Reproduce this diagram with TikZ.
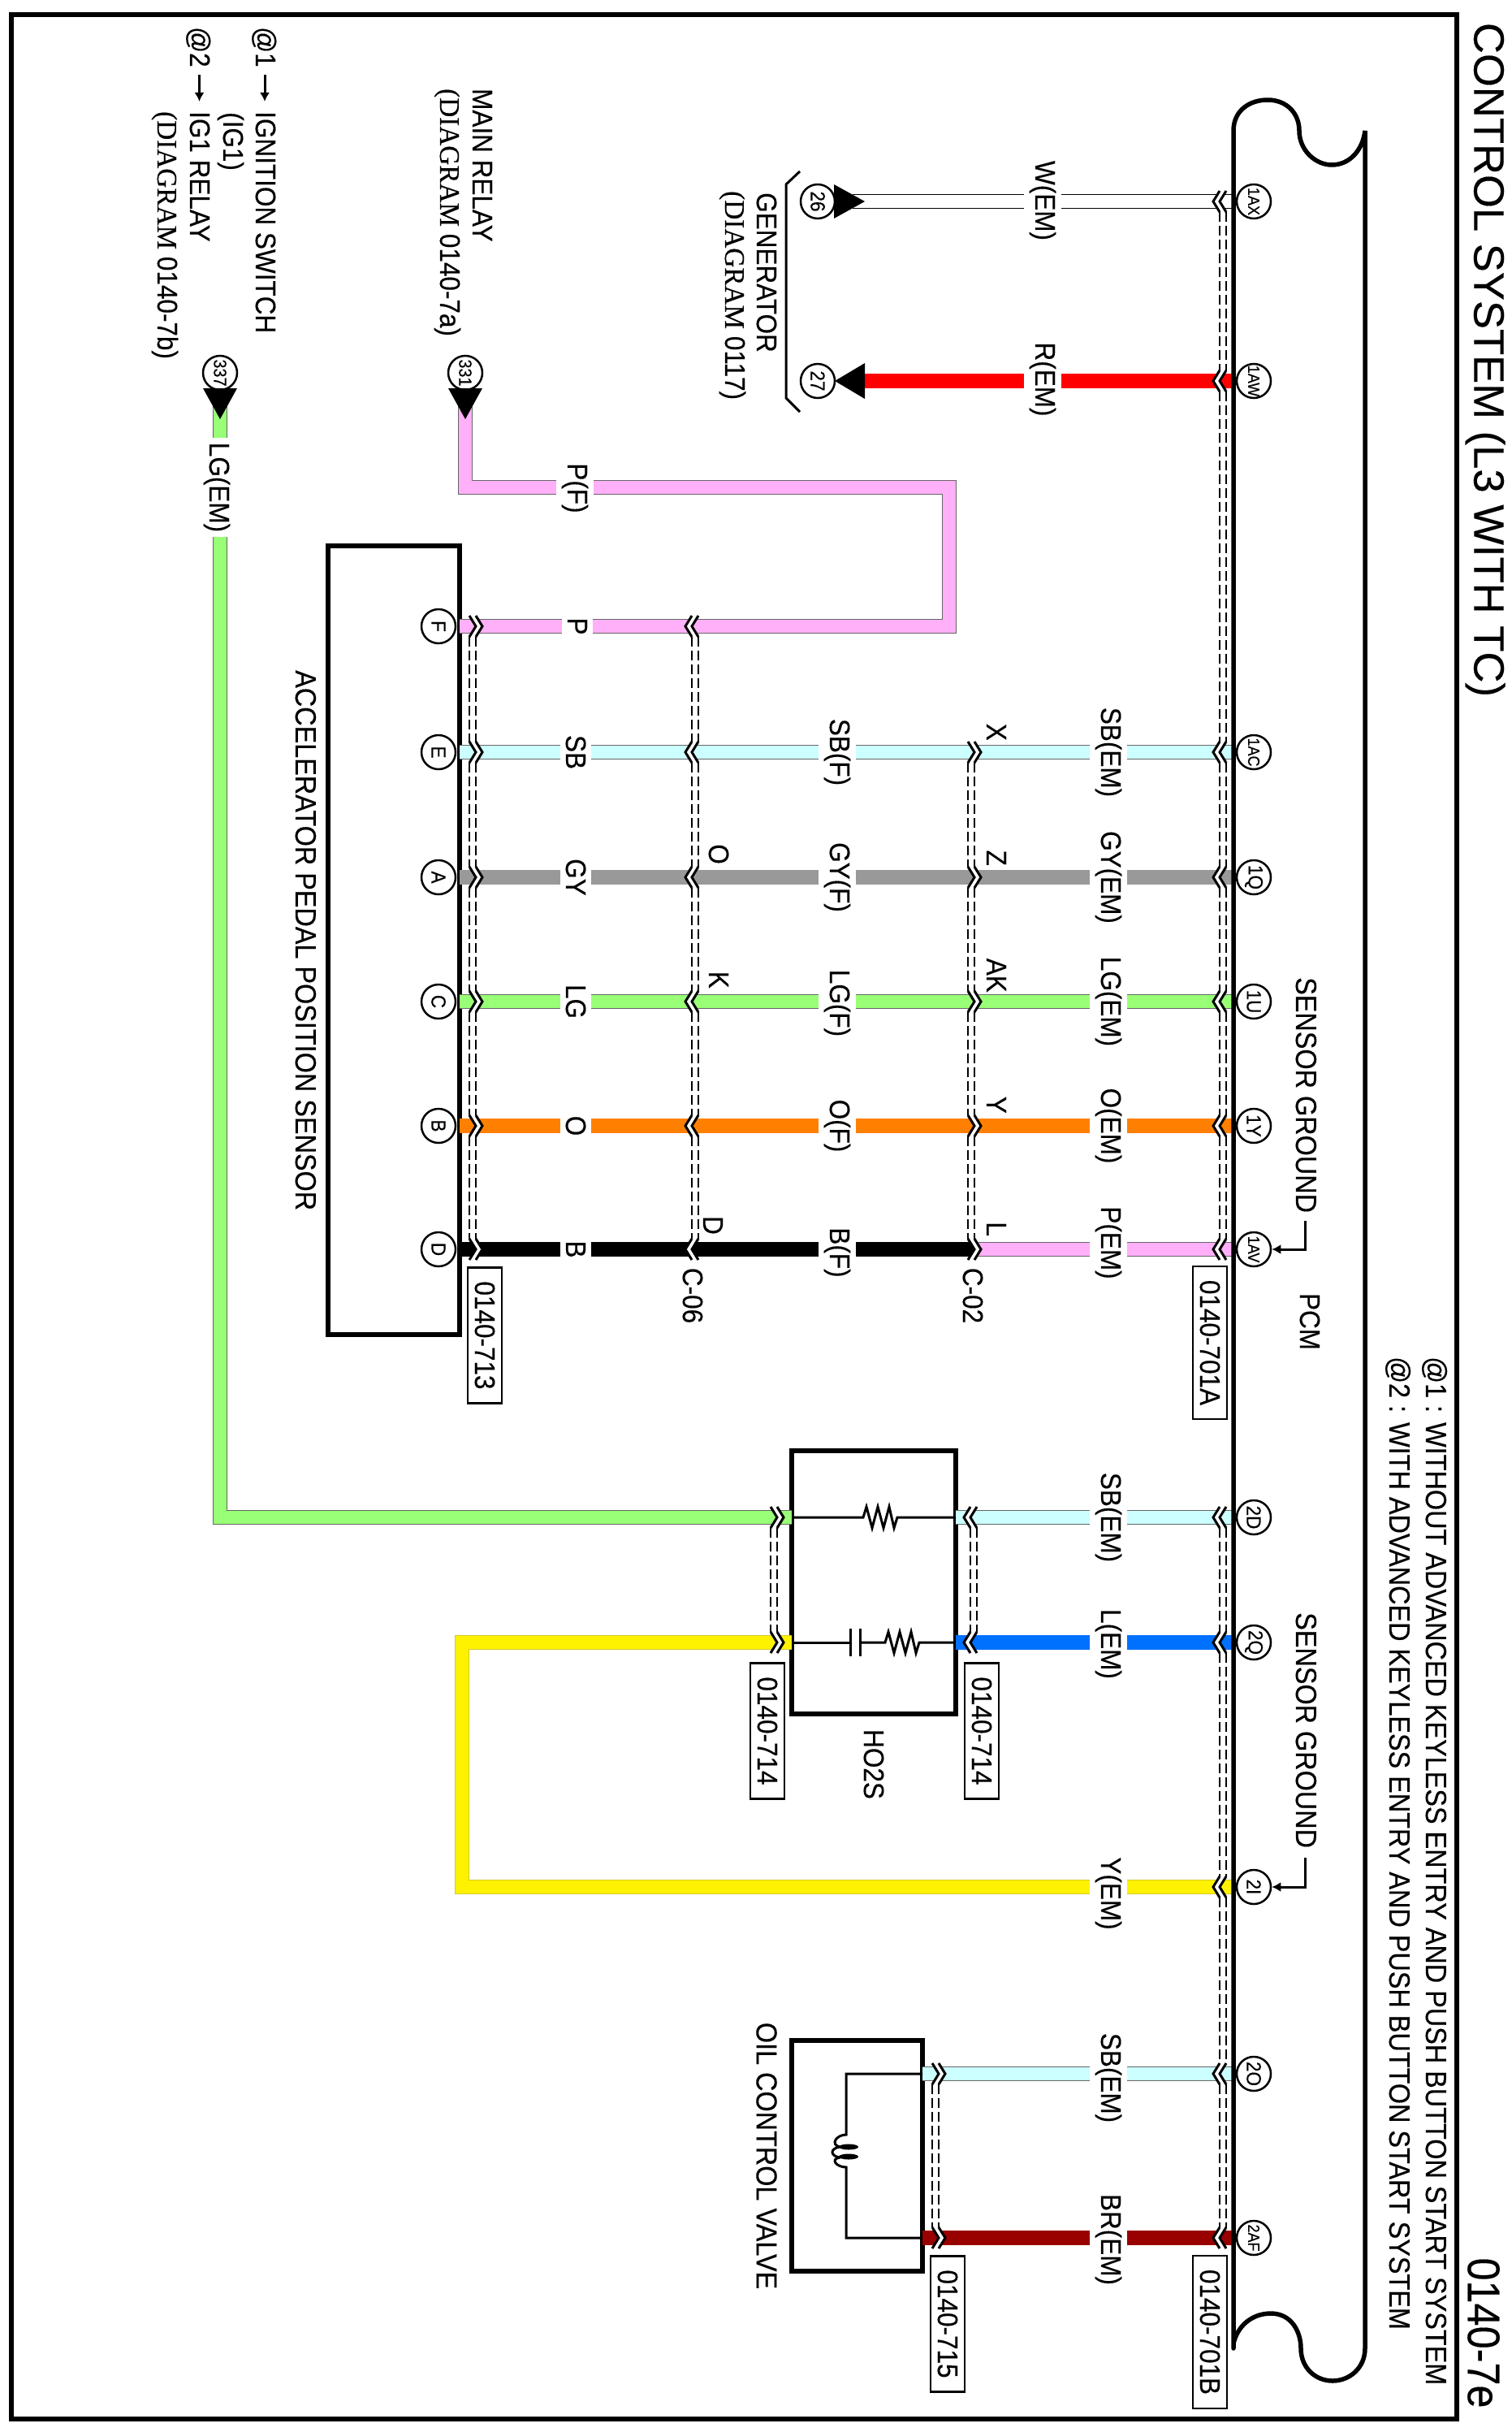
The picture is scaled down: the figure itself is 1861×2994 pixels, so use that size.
\documentclass[tikz,border=0pt]{standalone}
\usepackage{fontspec}
\setmainfont{Liberation Sans}[FakeStretch=0.9,FakeBold=0.3]
\newfontfamily\titlefont{Liberation Sans}[FakeBold=0.3]
\newfontfamily\dgmfont{Liberation Serif}[FakeStretch=0.95,FakeBold=0.3]
\usetikzlibrary{arrows.meta}

\definecolor{wirecyan}{HTML}{CCFFFF}
\definecolor{wiregray}{HTML}{999999}
\definecolor{wiregreen}{HTML}{99FF77}
\definecolor{wireorange}{HTML}{FF8000}
\definecolor{wirepink}{HTML}{FFB0F8}
\definecolor{wireblue}{HTML}{0070FF}
\definecolor{wirebrown}{HTML}{990000}

\tikzset{
  wire/.style 2 args={draw=#2,double=#1,double distance=16,line width=0.8,line join=miter},
  wSB/.style={wire={wirecyan}{black!60}},
  wGY/.style={wire={wiregray}{wiregray}},
  wLG/.style={wire={wiregreen}{black!60}},
  wO/.style={wire={wireorange}{wireorange}},
  wB/.style={wire={black}{black}},
  wP/.style={wire={wirepink}{black!60}},
  wR/.style={wire={red}{red}},
  wW/.style={wire={white}{black},line width=1},
  wL/.style={wire={wireblue}{wireblue}},
  wY/.style={wire={yellow}{yellow!80!black}},
  wBR/.style={wire={wirebrown}{wirebrown}},
  txt/.style={rotate=-90,inner sep=0,font=\fontsize{35}{38}\selectfont},
  wlabel/.style={txt,anchor=base,fill=white,inner ysep=7,inner xsep=2},
  pinlabel/.style={txt,anchor=base east},
  note/.style={txt,anchor=base west},
  longnote/.style={note,font=\fontsize{36}{38}\selectfont},
  pin/.style={circle,draw,fill=white,line width=2.5,minimum size=42,inner sep=0,rotate=-90,font=\fontsize{25}{25}\selectfont},
  pinsm/.style={pin,font=\fontsize{20}{20}\selectfont},
  pinnum/.style={pin,font=\fontsize{22}{22}\selectfont},
  unit/.style={draw,line width=6,inner sep=0,outer sep=0},
  refbox/.style={txt,draw,line width=2.5,inner xsep=17,inner ysep=0,minimum height=42},
  shield/.style={line width=2,dash pattern=on 12pt off 5pt},
  thin wire/.style={line width=3},
  leader/.style={line width=3,-{Latex[length=11pt,width=12pt]}},
  chevl/.pic={
    \fill[white] (0,0) -- (8,-13) -- (16,-13) -- (8,0) -- (16,13) -- (8,13) -- cycle;
    \draw[line width=3] (8,-13) -- (0,0) -- (8,13);
    \draw[line width=3] (16,-13) -- (8,0) -- (16,13);
  },
  chevr/.pic={
    \fill[white] (0,-13) -- (8,-13) -- (16,0) -- (8,13) -- (0,13) -- (8,0) -- cycle;
    \draw[line width=3] (0,-13) -- (8,0) -- (0,13);
    \draw[line width=3] (8,-13) -- (16,0) -- (8,13);
  },
}

\newcommand{\shieldrun}[3]{%
  \foreach \xx in {#1,#2}
    \foreach \ya/\yb in {#3}
      \draw[shield] (\xx,\ya+13) -- (\xx,\yb-13);}
\newcommand{\zigpath}{-- ++(4,-13) -- ++(7,26) -- ++(7,-26) -- ++(7,26) -- ++(7,-26) -- ++(6,26) -- ++(4,-13)}
\newcommand{\dgm}[1]{{\dgmfont(DIAGRAM} #1)}

\begin{document}
\begin{tikzpicture}[x=1pt,y=-1pt]
  \useasboundingbox (0,0) rectangle (1861,2994);

  % frame and headings
  \draw[line width=6,line join=miter] (14,18) rectangle (1794,2978);
  \node[txt,font=\titlefont\fontsize{52.6}{56}\selectfont] (title) at (1829,443) {CONTROL SYSTEM (L3 WITH TC)};
  \node[txt,font=\fontsize{56}{58}\selectfont] (pageno) at (1827,2872) {0140-7e};
  \node[longnote] (note1) at (1756,1670) {@1 : WITHOUT ADVANCED KEYLESS ENTRY AND PUSH BUTTON START SYSTEM};
  \node[longnote] (note2) at (1711,1670) {@2 : WITH ADVANCED KEYLESS ENTRY AND PUSH BUTTON START SYSTEM};

  % the units
  \node[unit,minimum width=162,minimum height=971] (sensor) at (485,1157.5) {};
  \node[unit,minimum width=202,minimum height=324] (ho2s) at (1076,1948) {};
  \node[unit,minimum width=161,minimum height=284] (ocv) at (1055.5,2654) {};
  \coordinate (bus) at (1519,0);
  \coordinate (c02) at (1200,0);

  % pins
  \foreach \n/\yy in {1AX/248,1AW/469,1AC/926,1AV/1538,2AF/2755}
    \node[pinsm] (p\n) at (1544,\yy) {\n};
  \foreach \n/\yy in {1Q/1080,1U/1233,1Y/1386,2D/1868,2Q/2022,2I/2323,2O/2553}
    \node[pin] (p\n) at (1544,\yy) {\n};
  \foreach \n/\yy in {F/771,E/926,A/1080,C/1233,B/1386,D/1538}
    \node[pin] (p\n) at (540,\yy) {\n};
  \node[pin] (j26) at (1007,248) {26};
  \node[pin] (j27) at (1007,469) {27};
  \node[pinnum] (j331) at (573,459) {331};
  \node[pinnum] (j337) at (271,459) {337};
  \coordinate (t26) at (1050,248);
  \coordinate (t27) at (1060,469);
  \coordinate (t331) at (573,498);
  \coordinate (t337) at (271,498);
  \coordinate (elbow) at (1169,600);
  \coordinate (ybend) at (569,2022);

  % wires
  \draw[wW] (t26) -- (p1AX -| bus);
  \draw[wR] (t27) -- (p1AW -| bus);
  \draw[wP] (pF -| sensor.east) -- (pF -| elbow) -- (elbow) -- (elbow -| t331) -- (t331);
  \draw[wLG] (t337) -- (t337 |- p2D) -- (p2D -| ho2s.west);
  \draw[wSB] (p2D -| ho2s.east) -- (p2D -| bus);
  \draw[wL] (p2Q -| ho2s.east) -- (p2Q -| bus);
  \draw[wY] (p2Q -| ho2s.west) -- (ybend) -- (ybend |- p2I) -- (p2I -| bus);
  \draw[wSB] (p2O -| ocv.east) -- (p2O -| bus);
  \draw[wBR] (p2AF -| ocv.east) -- (p2AF -| bus);

  % the five sensor rows
  \foreach \pa/\pb/\wl/\wr/\yy/\sl/\fl/\el/\ey/\fy in {
      1AC/E/wSB/wSB/926/SB/SB(F)/SB(EM)/926/926,
      1Q/A/wGY/wGY/1080/GY/GY(F)/GY(EM)/1080/1080,
      1U/C/wLG/wLG/1233/LG/LG(F)/LG(EM)/1233/1235,
      1Y/B/wO/wO/1386/O/O(F)/O(EM)/1386/1386,
      1AV/D/wB/wP/1538/B/B(F)/P(EM)/1530/1542}{
    \draw[\wl] (p\pb -| sensor.east) -- (p\pb -| c02);
    \draw[\wr] (p\pb -| c02) -- (p\pa -| bus);
    \node[wlabel] (ls\pb) at (697,\yy) {\sl};
    \node[wlabel] (lf\pb) at (1022,\fy) {\fl};
    \node[wlabel] (le\pb) at (1356,\ey) {\el};
    \pic at (578,\yy) {chevr};
    \pic at (844,\yy) {chevl};
    \pic at (1192,\yy) {chevr};
    \pic at (1494,\yy) {chevl};
  }

  % labels on the other wires
  \node[wlabel] (lW) at (1275,247) {W(EM)};
  \node[wlabel] (lR) at (1275,467) {R(EM)};
  \node[wlabel] (lPF) at (699,601) {P(F)};
  \node[wlabel] (lPS) at (699,771) {P};
  \node[wlabel,inner xsep=6] (lLG) at (258,600) {LG(EM)};
  \node[wlabel] (l2D) at (1356,1868) {SB(EM)};
  \node[wlabel] (l2Q) at (1356,2024) {L(EM)};
  \node[wlabel] (l2I) at (1356,2331) {Y(EM)};
  \node[wlabel] (l2O) at (1356,2558) {SB(EM)};
  \node[wlabel] (l2AF) at (1356,2757) {BR(EM)};

  % pin letters
  \foreach \t/\xx/\yy in {O/873/1064,K/873/1217,D/866/1520}
    \node[pinlabel] (m\t) at (\xx,\yy) {\t};
  \foreach \t/\yy in {X/912,Z/1066,AK/1222,Y/1371,L/1522}
    \node[pinlabel] (n\t) at (1215,\yy) {\t};

  % chevrons on the other wires
  \foreach \yy in {248,469,1868,2022,2323,2553,2755}
    \pic at (1494,\yy) {chevl};
  \pic at (844,771) {chevl};
  \pic at (578,771) {chevr};
  \foreach \yy in {1868,2022} {
    \pic at (949,\yy) {chevr};
    \pic at (1187,\yy) {chevl};
  }
  \foreach \yy in {2553,2755}
    \pic at (1148,\yy) {chevr};

  % shields
  \shieldrun{1502}{1510}{248/469,469/926,926/1080,1080/1233,1233/1386,1386/1538}
  \shieldrun{1502}{1510}{1868/2022,2022/2323,2323/2553,2553/2755}
  \shieldrun{1192}{1200}{926/1080,1080/1233,1233/1386,1386/1538}
  \shieldrun{852}{860}{771/926,926/1080,1080/1233,1233/1386,1386/1538}
  \shieldrun{578}{586}{771/926,926/1080,1080/1233,1233/1386,1386/1538}
  \shieldrun{949}{957}{1868/2022}
  \shieldrun{1195}{1203}{1868/2022}
  \shieldrun{1148}{1156}{2553/2755}

  % PCM outline
  \draw[line width=5.5,line cap=round] (1519,2891) -- (1519,161)
     .. controls (1519,135) and (1540,123) .. (1561,123)
     .. controls (1585,123) and (1600,140) .. (1600,161)
     .. controls (1600,185) and (1620,203) .. (1640,203)
     .. controls (1662,203) and (1678,185) .. (1681,161)
     -- (1681,2891)
     .. controls (1681,2915) and (1662,2931) .. (1641,2931)
     .. controls (1620,2931) and (1602,2915) .. (1602,2891)
     .. controls (1602,2870) and (1590,2848) .. (1565,2848)
     .. controls (1545,2848) and (1525,2860) .. (1519,2885);

  % arrow heads at the feeds
  \fill (1027,227) -- (1027,269) -- (1065,248) -- cycle;
  \fill (1065,447) -- (1065,491) -- (1028,469) -- cycle;
  \fill (552,478) -- (594,478) -- (573,516) -- cycle;
  \fill (250,478) -- (292,478) -- (271,516) -- cycle;

  % generator bracket
  \draw[line width=3] (985,211) -- (968,227) -- (968,490) -- (985,507);

  % inside HO2S
  \draw[thin wire] (p2D -| ho2s.west) -- (1063,1868) \zigpath -- (p2D -| ho2s.east);
  \draw[thin wire] (p2Q -| ho2s.west) -- (1047,2022);
  \draw[thin wire] (1047,2005) -- (1047,2039);
  \draw[thin wire] (1059,2005) -- (1059,2039);
  \draw[thin wire] (1059,2022) -- (1090,2022) \zigpath -- (p2Q -| ho2s.east);

  % inside the oil control valve
  \draw[thin wire] (p2O -| ocv.east) -- (1042,2553) -- (1042,2628)
     .. controls (1030,2628) and (1022,2640) .. (1034,2643)
     .. controls (1022,2645) and (1022,2654) .. (1034,2656)
     .. controls (1022,2658) and (1030,2668) .. (1042,2668)
     -- (1042,2755) -- (p2AF -| ocv.east);
  \fill (1045,2643) ellipse (12 and 3.5);
  \fill (1045,2655) ellipse (12 and 3.5);

  % connector references
  \node[refbox] (r701a) at (1490,1653) {0140-701A};
  \node[refbox] (r701b) at (1490,2871) {0140-701B};
  \node[refbox] (r713) at (597,1644) {0140-713};
  \node[refbox] (r714a) at (945,2131) {0140-714};
  \node[refbox] (r714b) at (1209,2131) {0140-714};
  \node[refbox] (r715) at (1167,2861) {0140-715};

  % names
  \node[txt] (c06) at (853,1595) {C-06};
  \node[txt] (c02t) at (1198,1595) {C-02};
  \node[txt] (pcm) at (1613,1627) {PCM};
  \node[longnote] (sg1t) at (1596,1203) {SENSOR GROUND};
  \node[longnote] (sg2t) at (1596,1985) {SENSOR GROUND};
  \coordinate (sg1) at (1607,1503);
  \coordinate (sg2) at (1607,2287);
  \draw[leader] (sg1) |- (p1AV);
  \draw[leader] (sg2) |- (p2I);
  \node[longnote] (aps) at (364,825) {ACCELERATOR PEDAL POSITION SENSOR};
  \node[txt] (hot) at (1076,2172) {HO2S};
  \node[txt,font=\fontsize{36}{38}\selectfont] (ocvt) at (944,2654) {OIL CONTROL VALVE};
  \node[note] (gen) at (932,237) {GENERATOR};
  \node[note] (gend) at (893,235) {\dgm{0117}};
  \node[note] (main) at (582,109) {MAIN RELAY};
  \node[note] (maind) at (542,109) {\dgm{0140-7a}};
  \node[note] (at1) at (315,33) {@1};
  \node[note] (ign) at (315,137) {IGNITION SWITCH};
  \node[note] (ig1p) at (275,138) {(IG1)};
  \node[note] (at2) at (234,33) {@2};
  \node[note] (relay) at (234,137) {IG1 RELAY};
  \node[note] (relayd) at (194,137) {\dgm{0140-7b}};
  \coordinate (a1s) at (326,92);
  \coordinate (a1e) at (326,125);
  \coordinate (a2s) at (245.5,92);
  \coordinate (a2e) at (245.5,125);
  \draw[leader] (a1s) -- (a1e);
  \draw[leader] (a2s) -- (a2e);
\end{tikzpicture}
\end{document}
